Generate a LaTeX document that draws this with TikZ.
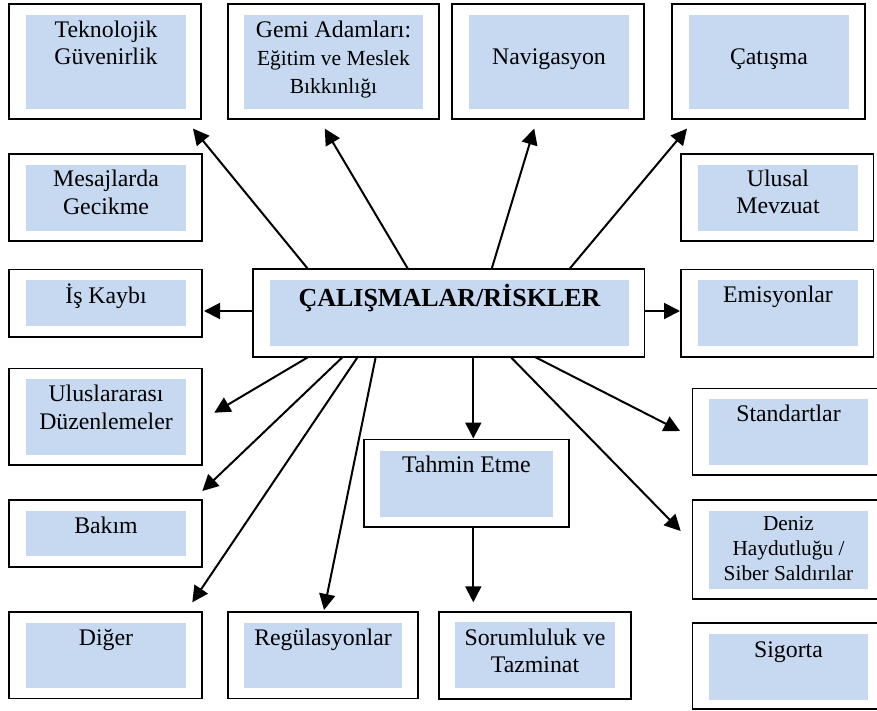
\documentclass[tikz,border=0pt]{standalone}
\usepackage{fontspec}
\setmainfont{Liberation Serif}
\usetikzlibrary{arrows.meta,fit}
\definecolor{boxblue}{RGB}{198,217,241}
\tikzset{
 outerbox/.style={draw=black,line width=1.6pt,inner sep=0pt,fill=white},
 innerbox/.style={fill=boxblue,draw=none,inner sep=0pt},
 lbl/.style={anchor=north,align=center,inner sep=0pt,font=\fontsize{23.8}{27.5}\selectfont},
 lblsmall/.style={lbl,font=\fontsize{21.3}{25}\selectfont},
 lblbold/.style={lbl,font=\fontsize{26}{30}\selectfont\bfseries},
 arr/.style={line width=2pt,-{Triangle[length=16pt,width=16pt]}},
}
\newcommand{\st}{\rule{0pt}{21pt}}
\begin{document}
\begin{tikzpicture}[x=1pt,y=-1pt]
\useasboundingbox (0,0) rectangle (877,710);
\clip (0,0) rectangle (877,710);
% top row
\node[outerbox,fit={(9,4) (201,119)}] (tek) {};
\node[innerbox,fit={(26,15) (186,109)}] (tek-in) {};
\node[lbl] (tek-t) at (106,16) {\st Teknolojik\\Güvenirlik};

\node[outerbox,fit={(228,4) (439,119)}] (gem) {};
\node[innerbox,fit={(244,15) (423,109)}] (gem-in) {};
\node[lbl,font=\fontsize{23.8}{28}\selectfont] (gem-t) at (333.5,16) {\st Gemi Adamları:\\{\fontsize{21.5}{25}\selectfont Eğitim ve Meslek}\\{\fontsize{21.5}{25}\selectfont Bıkkınlığı}};

\node[outerbox,fit={(452,4) (644,119)}] (nav) {};
\node[innerbox,fit={(469,15) (629,109)}] (nav-in) {};
\node[lbl] (nav-t) at (549,43) {\st Navigasyon};

\node[outerbox,fit={(672,4) (865,119)}] (cat) {};
\node[innerbox,fit={(689,15) (849,109)}] (cat-in) {};
\node[lbl] (cat-t) at (769,43) {\st Çatışma};

% second row
\node[outerbox,fit={(9,154) (201.7,240.7)}] (mes) {};
\node[innerbox,fit={(26,165) (185.7,230.7)}] (mes-in) {};
\node[lbl] (mes-t) at (106,165.5) {\st Mesajlarda\\Gecikme};

\node[outerbox,fit={(680.7,154) (873.3,240.7)}] (ulu) {};
\node[innerbox,fit={(698,165) (857.7,230.7)}] (ulu-in) {};
\node[lbl] (ulu-t) at (778,165) {\st Ulusal\\Mevzuat};

% third row
\node[outerbox,fit={(9,269.3) (201.7,336.7)}] (isk) {};
\node[innerbox,fit={(26,280) (185.7,325.7)}] (isk-in) {};
\node[lbl] (isk-t) at (106,282) {\st İş Kaybı};

\node[outerbox,fit={(253,269) (644.5,357)}] (cen) {};
\node[innerbox,fit={(270,280) (629,346)}] (cen-in) {};
\node[lblbold] (cen-t) at (449.5,284) {\st ÇALIŞMALAR/RİSKLER};

\node[outerbox,fit={(680.7,269.3) (873.3,356.7)}] (emi) {};
\node[innerbox,fit={(698,280) (857.7,345.7)}] (emi-in) {};
\node[lbl] (emi-t) at (778,281) {\st Emisyonlar};

% left column lower
\node[outerbox,fit={(9,368.3) (201.7,465)}] (uls) {};
\node[innerbox,fit={(26,379) (186,455)}] (uls-in) {};
\node[lbl] (uls-t) at (106,380.7) {\st Uluslararası\\Düzenlemeler};

\node[outerbox,fit={(9,500) (201.7,566.7)}] (bak) {};
\node[innerbox,fit={(26,511) (186,556)}] (bak-in) {};
\node[lbl] (bak-t) at (106,512) {\st Bakım};

\node[outerbox,fit={(9,612) (201.7,698.3)}] (dig) {};
\node[innerbox,fit={(26,623) (186,688.3)}] (dig-in) {};
\node[lbl] (dig-t) at (106,624) {\st Diğer};

\node[outerbox,fit={(227.7,611.7) (417.7,698.3)}] (reg) {};
\node[innerbox,fit={(244,623) (402,688.3)}] (reg-in) {};
\node[lbl] (reg-t) at (323,624) {\st Regülasyonlar};

% middle column
\node[outerbox,fit={(363.7,439.3) (569,526.7)}] (tah) {};
\node[innerbox,fit={(380,450.7) (552.7,516.7)}] (tah-in) {};
\node[lbl] (tah-t) at (466.3,451.7) {\st Tahmin Etme};

\node[outerbox,fit={(439,611.7) (631,699)}] (sor) {};
\node[innerbox,fit={(455,622) (615,688)}] (sor-in) {};
\node[lbl] (sor-t) at (535,624) {\st Sorumluluk ve\\Tazminat};

% right column lower
\node[outerbox,fit={(692.3,388.3) (890,475)}] (std) {};
\node[innerbox,fit={(709,399) (868,465)}] (std-in) {};
\node[lbl] (std-t) at (788.5,400) {\st Standartlar};

\node[outerbox,fit={(692.3,500) (890,599)}] (den) {};
\node[innerbox,fit={(709,511) (868,589)}] (den-in) {};
\node[lblsmall] (den-t) at (788.5,509) {\st Deniz\\Haydutluğu /\\Siber Saldırılar};

\node[outerbox,fit={(692.3,623) (890,709)}] (sig) {};
\node[innerbox,fit={(709,634) (868,700)}] (sig-in) {};
\node[lbl] (sig-t) at (788.5,636) {\st Sigorta};

% arrow start points on the central box and free ends
\coordinate (s1) at (308,269);   \coordinate (e1) at (193,128.6);
\coordinate (s2) at (408,269);   \coordinate (e2) at (324.7,128.6);
\coordinate (s3) at (491.6,269); \coordinate (e3) at (534.2,128.6);
\coordinate (s4) at (569.4,269); \coordinate (e4) at (687,128.6);
\coordinate (s5) at (253,311);   \coordinate (e5) at (204,311);
\coordinate (s6) at (644.5,311); \coordinate (e6) at (680,311);
\coordinate (s7) at (308.3,357); \coordinate (e7) at (214.3,412.7);
\coordinate (s8) at (342.7,357); \coordinate (e8) at (202.3,491);
\coordinate (s9) at (357.7,357); \coordinate (e9) at (192.3,602.3);
\coordinate (s10) at (375.7,357); \coordinate (e10) at (324,610);
\coordinate (s11) at (473.3,357);
\coordinate (e12) at (473.3,602.3);
\coordinate (s13) at (535,357);  \coordinate (e13) at (680,431);
\coordinate (s14) at (510.7,357); \coordinate (e14) at (680.7,531);

\draw[arr] (s1) -- (e1);
\draw[arr] (s2) -- (e2);
\draw[arr] (s3) -- (e3);
\draw[arr] (s4) -- (e4);
\draw[arr] (s5) -- (e5);
\draw[arr] (s6) -- (e6);
\draw[arr] (s7) -- (e7);
\draw[arr] (s8) -- (e8);
\draw[arr] (s9) -- (e9);
\draw[arr] (s10) -- (e10);
\draw[arr] (s11) -- (s11 |- tah.north);
\draw[arr] (s11 |- tah.south) -- (e12);
\draw[arr] (s13) -- (e13);
\draw[arr] (s14) -- (e14);
\end{tikzpicture}
\end{document}
